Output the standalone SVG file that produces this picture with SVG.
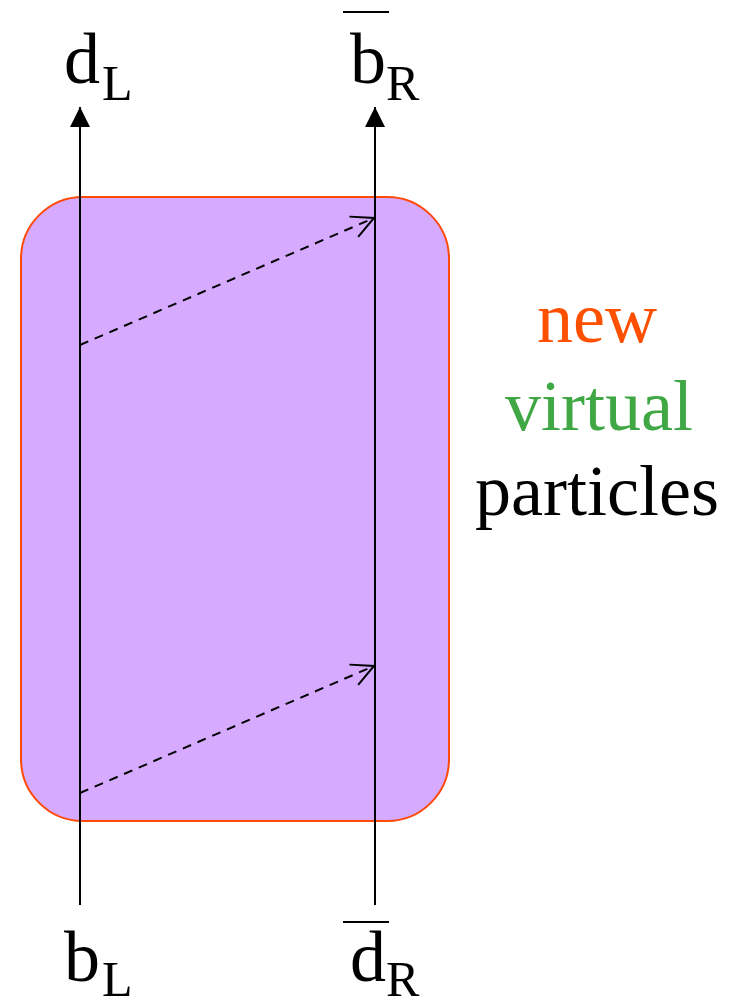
<svg xmlns="http://www.w3.org/2000/svg" width="738" height="1007" viewBox="0 0 738 1007">
<style>
.lbl{font-family:"Liberation Serif","Times New Roman",serif;fill:#000}
.big{font-size:72px}
.sub{font-size:50px}
.line{stroke:#000;stroke-width:2;fill:none}
.dash{stroke:#000;stroke-width:2;fill:none;stroke-dasharray:9,7}
</style>
<defs>
<marker id="solid" markerWidth="22" markerHeight="22" viewBox="0 0 22 22" refX="20" refY="11" orient="auto" markerUnits="userSpaceOnUse">
<path d="M0,1 L20,11 L0,21 Z" fill="#000"/>
</marker>
<marker id="open" markerWidth="26" markerHeight="26" viewBox="0 0 26 26" refX="24" refY="13" orient="auto" markerUnits="userSpaceOnUse">
<path d="M2,2 L24,13 L2,24" fill="none" stroke="#000" stroke-width="2"/>
</marker>
</defs>
<g id="box">
<rect x="21" y="197" width="428" height="624" rx="62" ry="62" fill="#d5aaff" stroke="#ff4a0a" stroke-width="2"/>
</g>
<g id="connectors">
<line class="line" x1="80" y1="905" x2="80" y2="107" marker-end="url(#solid)"/>
<line class="line" x1="375" y1="905" x2="375" y2="107" marker-end="url(#solid)"/>
<line class="dash" x1="80" y1="345" x2="374" y2="218" marker-end="url(#open)"/>
<line class="dash" x1="80" y1="793" x2="374" y2="666" marker-end="url(#open)"/>
</g>
<g id="dL">
<text class="lbl big" x="64" y="83">d</text>
<text class="lbl sub" x="102" y="100">L</text>
</g>
<g id="bbarR">
<line class="line" x1="343" y1="12" x2="389" y2="12"/>
<text class="lbl big" x="350" y="83">b</text>
<text class="lbl sub" x="386" y="100">R</text>
</g>
<g id="bL">
<text class="lbl big" x="64" y="981">b</text>
<text class="lbl sub" x="102" y="996">L</text>
</g>
<g id="dbarR">
<line class="line" x1="343" y1="922" x2="389" y2="922"/>
<text class="lbl big" x="350" y="981">d</text>
<text class="lbl sub" x="386" y="996">R</text>
</g>
<g id="caption">
<text class="lbl big" x="597" y="342" text-anchor="middle" style="fill:#ff5000">new</text>
<text class="lbl big" x="599" y="430" text-anchor="middle" style="fill:#3fa845">virtual</text>
<text class="lbl big" x="597" y="515" text-anchor="middle">particles</text>
</g>
</svg>
